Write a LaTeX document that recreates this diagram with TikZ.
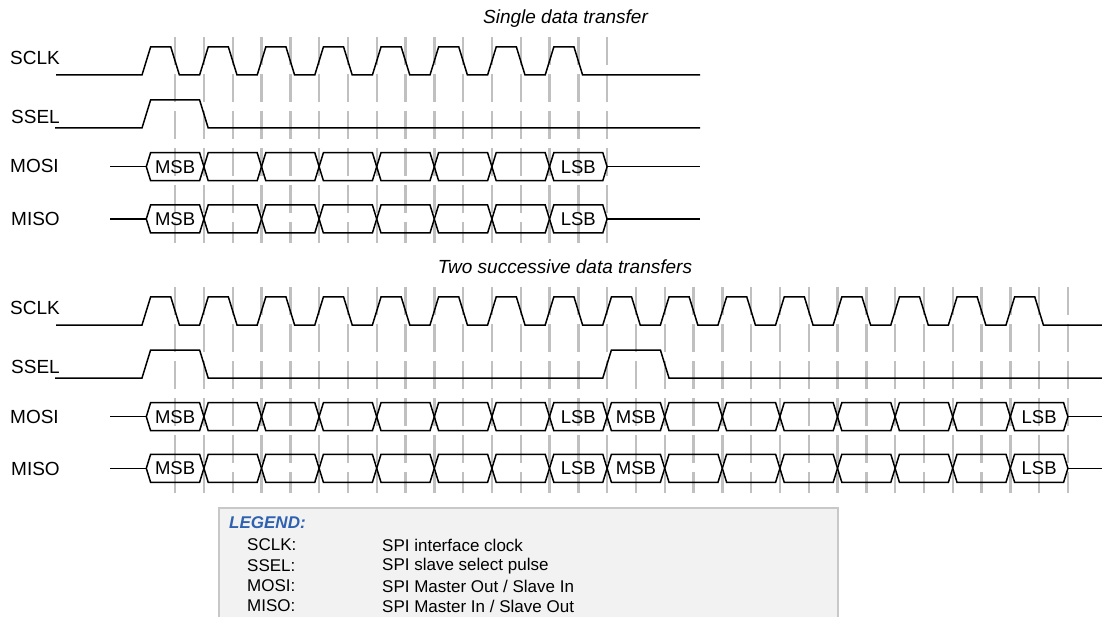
\documentclass[tikz,border=0pt]{standalone}
\usepackage{fontspec}
\setmainfont{Liberation Sans}
\definecolor{guidegray}{HTML}{C0C0C0}
\definecolor{legbg}{HTML}{F2F2F2}
\definecolor{legborder}{HTML}{C8C8C8}
\definecolor{legblue}{HTML}{2E62B0}
\begin{document}
\begin{tikzpicture}[x=1pt,y=-1pt,
  sig/.style={line width=1.5pt, black, line join=miter},
  guide/.style={line width=2.4pt, guidegray, dash pattern=on 28pt off 9pt},
  lbl/.style={anchor=west, inner sep=0pt, font=\fontsize{19}{21}\selectfont},
  bitlbl/.style={inner sep=0pt, font=\fontsize{18.5}{20}\selectfont},
  ttl/.style={anchor=base, inner sep=0pt, font=\fontsize{19}{21}\selectfont\itshape},
  legtxt/.style={anchor=west, inner sep=0pt, font=\fontsize{17}{19}\selectfont},
  leghead/.style={anchor=west, inner sep=0pt, text=legblue, font=\fontsize{17}{19}\selectfont\bfseries\itshape},
]
\useasboundingbox (0,0) rectangle (1102,617);
\clip (0,0) rectangle (1102,617);
\def\tzero{146.3}
\def\per{57.6}
\def\hper{28.8}
\def\tw{4.3}

% ---------- guide lines ----------
\foreach \j in {1,...,16}
  \draw[guide] ({\tzero+\hper*\j},37) -- ({\tzero+\hper*\j},243);
\foreach \j in {1,...,32}
  \draw[guide] ({\tzero+\hper*\j},287) -- ({\tzero+\hper*\j},493);

% ---------- titles ----------
\node[ttl] (t1) at (565.5,24) {Single data transfer};
\node[ttl] (t2) at (565,274) {Two successive data transfers};

% ---------- top section ----------
\node[lbl] (sclkA) at (10,58.3) {SCLK};
\node[lbl] (sselA) at (11,117) {SSEL};
\node[lbl] (mosiA) at (10,165.5) {MOSI};
\node[lbl] (misoA) at (11,219) {MISO};

\draw[sig] (56,75) \foreach \k in {0,...,7} {
  -- ({\tzero+\per*\k-\tw},75) -- ({\tzero+\per*\k+\tw},47)
  -- ({\tzero+\per*\k+\hper-\tw},47) -- ({\tzero+\per*\k+\hper+\tw},75) }
  -- (700,75);

\draw[sig] (55,128) -- ({\tzero-\tw},128) -- ({\tzero+\tw},100)
  -- ({\tzero+\per-\tw},100) -- ({\tzero+\per+\tw},128) -- (700,128);

\foreach \c/\nm in {166.7/mosiA, 219/misoA} {
  \draw[sig] (110,\c) -- (\tzero,\c);
  \foreach \k in {0,...,7} {
    \draw[sig] ({\tzero+\per*\k},\c) -- ({\tzero+\per*\k+\tw},\c-14)
      -- ({\tzero+\per*(\k+1)-\tw},\c-14) -- ({\tzero+\per*(\k+1)},\c)
      -- ({\tzero+\per*(\k+1)-\tw},\c+14) -- ({\tzero+\per*\k+\tw},\c+14) -- cycle;
  }
  \draw[sig] ({\tzero+\per*8},\c) -- (700,\c);
  \node[bitlbl] (\nm-msb) at ({\tzero+\per*0.5},\c) {MSB};
  \node[bitlbl] (\nm-lsb) at ({\tzero+\per*7.5},\c) {LSB};
}

% ---------- bottom section ----------
\node[lbl] (sclkB) at (10,308.3) {SCLK};
\node[lbl] (sselB) at (11,367) {SSEL};
\node[lbl] (mosiB) at (10,416.5) {MOSI};
\node[lbl] (misoB) at (11,469) {MISO};

\draw[sig] (56,325) \foreach \k in {0,...,15} {
  -- ({\tzero+\per*\k-\tw},325) -- ({\tzero+\per*\k+\tw},297)
  -- ({\tzero+\per*\k+\hper-\tw},297) -- ({\tzero+\per*\k+\hper+\tw},325) }
  -- (1102,325);

\draw[sig] (55,378) -- ({\tzero-\tw},378) -- ({\tzero+\tw},350)
  -- ({\tzero+\per-\tw},350) -- ({\tzero+\per+\tw},378)
  -- ({\tzero+\per*8-\tw},378) -- ({\tzero+\per*8+\tw},350)
  -- ({\tzero+\per*9-\tw},350) -- ({\tzero+\per*9+\tw},378) -- (1102,378);

\foreach \c/\nm in {416.7/mosiB, 468.3/misoB} {
  \draw[sig] (110,\c) -- (\tzero,\c);
  \foreach \k in {0,...,15} {
    \draw[sig] ({\tzero+\per*\k},\c) -- ({\tzero+\per*\k+\tw},\c-14)
      -- ({\tzero+\per*(\k+1)-\tw},\c-14) -- ({\tzero+\per*(\k+1)},\c)
      -- ({\tzero+\per*(\k+1)-\tw},\c+14) -- ({\tzero+\per*\k+\tw},\c+14) -- cycle;
  }
  \draw[sig] ({\tzero+\per*16},\c) -- (1102,\c);
  \node[bitlbl] (\nm-msb1) at ({\tzero+\per*0.5},\c) {MSB};
  \node[bitlbl] (\nm-lsb1) at ({\tzero+\per*7.5},\c) {LSB};
  \node[bitlbl] (\nm-msb2) at ({\tzero+\per*8.5},\c) {MSB};
  \node[bitlbl] (\nm-lsb2) at ({\tzero+\per*15.5},\c) {LSB};
}

% ---------- legend ----------
\draw[fill=legbg, draw=legborder, line width=1.5pt] (219,508) rectangle (838,650);
\node[leghead] (leg) at (229,523) {LEGEND:};
\node[legtxt] (l1a) at (247,545) {SCLK:};
\node[legtxt] (l1b) at (382,545) {SPI interface clock};
\node[legtxt] (l2a) at (247,566) {SSEL:};
\node[legtxt] (l2b) at (382,566) {SPI slave select pulse};
\node[legtxt] (l3a) at (247,586) {MOSI:};
\node[legtxt] (l3b) at (382,586) {SPI Master Out / Slave In};
\node[legtxt] (l4a) at (247,606) {MISO:};
\node[legtxt] (l4b) at (382,606) {SPI Master In / Slave Out};
\end{tikzpicture}
\end{document}
